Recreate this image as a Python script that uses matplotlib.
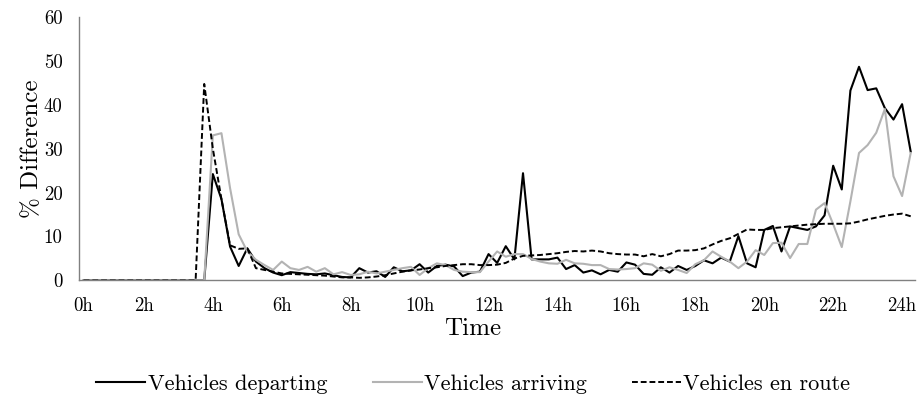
import numpy as np
import matplotlib
matplotlib.use("Agg")
import matplotlib.pyplot as plt

plt.rcParams['font.family'] = 'serif'
plt.rcParams['font.serif'] = ['cmr10']
plt.rcParams['mathtext.fontset'] = 'cm'
plt.rcParams['axes.formatter.use_mathtext'] = True

# 15-minute slots over the day
slots = np.arange(1, 98) * 0.25

departing = [
    0, 0, 0, 0, 0, 0, 0, 0, 0, 0, 0, 0, 0, 0, 0,
    24.2, 18.5, 7.7, 3.3, 7.3, 4.3, 2.8, 1.8, 1.2, 1.9,
    1.7, 1.5, 1.4, 1.6, 1.2, 0.8, 0.7, 2.8, 1.8, 2.1,
    0.8, 3.0, 2.1, 2.3, 3.7, 1.8, 3.3, 3.6, 3.2, 1.0,
    1.8, 2.0, 6.0, 4.0, 7.8, 4.8, 24.4, 4.8, 4.8, 4.8,
    5.2, 2.6, 3.5, 1.8, 2.3, 1.4, 2.4, 2.0, 4.1, 3.6,
    1.5, 1.3, 3.0, 1.8, 3.3, 2.4, 3.3, 4.6, 3.9, 5.2,
    4.3, 10.1, 3.9, 3.0, 11.5, 12.4, 6.6, 12.3, 11.9, 11.5,
    12.3, 14.8, 26.1, 20.7, 43.2, 48.6, 43.3, 43.7, 39.2, 36.6,
    40.1, 29.3,
]

arriving = [
    0, 0, 0, 0, 0, 0, 0, 0, 0, 0, 0, 0, 0, 0, 0,
    33.0, 33.5, 21.0, 10.5, 6.6, 4.7, 3.5, 2.4, 4.3, 2.8,
    2.4, 3.1, 2.0, 2.8, 1.4, 1.9, 1.25, 1.4, 2.0, 1.6,
    2.0, 2.4, 2.8, 3.1, 1.25, 2.8, 3.9, 3.5, 2.4, 2.0,
    1.9, 1.9, 4.3, 6.6, 5.4, 6.0, 6.0, 4.9, 4.3, 3.9,
    3.8, 4.7, 3.9, 3.8, 3.5, 3.5, 2.6, 2.5, 2.6, 2.8,
    3.9, 3.6, 2.2, 3.0, 2.4, 1.7, 3.7, 4.6, 6.6, 5.4,
    4.3, 2.8, 4.3, 6.9, 5.8, 8.5, 8.6, 5.1, 8.3, 8.3,
    16.1, 17.6, 12.8, 7.6, 18.0, 29.0, 30.8, 33.6, 39.0, 23.7,
    19.2, 29.0,
]

en_route = [
    0, 0, 0, 0, 0, 0, 0, 0, 0, 0, 0, 0, 0, 0, 44.7,
    30.0, 18.5, 8.0, 7.2, 7.3, 2.8, 2.4, 2.0, 1.6, 1.5,
    1.4, 1.3, 1.2, 1.1, 0.9, 0.7, 0.7, 0.6, 0.7, 0.9,
    1.2, 1.6, 2.0, 2.3, 2.5, 2.8, 3.0, 3.3, 3.5, 3.7,
    3.7, 3.5, 3.5, 3.6, 4.0, 5.0, 5.6, 5.7, 5.8, 6.0,
    6.2, 6.5, 6.7, 6.6, 6.8, 6.6, 6.2, 6.0, 5.9, 5.9,
    5.5, 6.0, 5.5, 6.0, 6.8, 6.8, 6.9, 7.3, 8.2, 9.0,
    9.6, 10.6, 11.6, 11.5, 11.5, 11.9, 12.1, 12.3, 12.5, 12.7,
    12.8, 12.9, 12.9, 12.9, 13.0, 13.4, 13.9, 14.3, 14.7, 15.0,
    15.2, 14.6,
]

hour_ticks = [0.25] + list(range(2, 25, 2))
hour_labels = [f"{h}h" for h in range(0, 25, 2)]
y_ticks = list(range(0, 61, 10))

fig = plt.figure(figsize=(9.21, 3.97), dpi=100)
ax = fig.add_axes([0.0861, 0.2935, 0.9074, 0.6645])

ax.plot(slots, departing, color='black', lw=1.5, label='Vehicles departing')
ax.plot(slots, arriving, color='#b3b3b3', lw=1.5, label='Vehicles arriving')
ax.plot(slots, en_route, color='black', lw=1.4, ls=(0, (3, 1.5)),
        label='Vehicles en route')

ax.set_xlim(0.125, 24.375)
ax.set_ylim(0, 60)
ax.set_xticks(hour_ticks)
ax.set_xticklabels(hour_labels, fontsize=13.5)
ax.set_yticks(y_ticks)
ax.set_yticklabels([str(v) for v in y_ticks], fontsize=13.5)
ax.tick_params(axis='x', length=0, pad=12)
ax.tick_params(axis='y', length=0, pad=12)

for side in ('top', 'right'):
    ax.spines[side].set_visible(False)
for side in ('left', 'bottom'):
    ax.spines[side].set_color('#808080')
    ax.spines[side].set_linewidth(1.0)

ax.set_xlabel('Time', fontsize=18)
ax.xaxis.set_label_coords(0.471, -0.143)
ax.set_ylabel('% Difference', fontsize=18, labelpad=0.5)

fig.legend(loc='center', bbox_to_anchor=(0.514, 0.033), ncol=3, frameon=False,
           fontsize=16, handlelength=2.2, handletextpad=0.1, columnspacing=2.05)

fig.savefig('out.png', dpi=100)
